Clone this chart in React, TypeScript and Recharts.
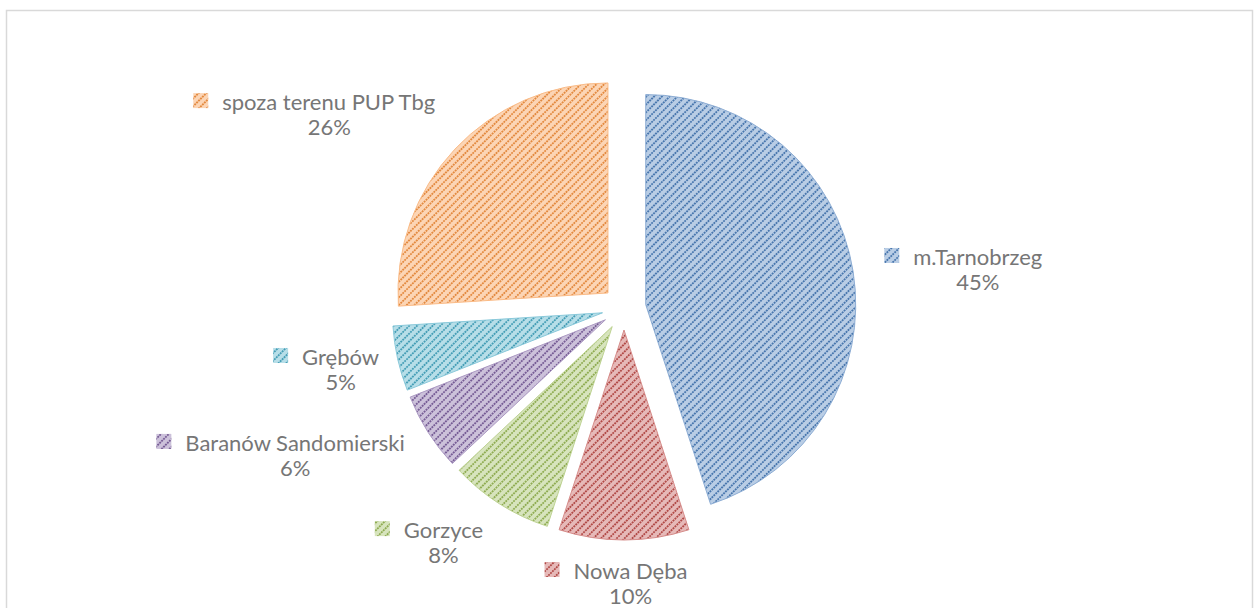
import React from 'react';
import { PieChart, Pie, Cell, Sector } from 'recharts';

const categories = ['m.Tarnobrzeg', 'Nowa Dęba', 'Gorzyce', 'Baranów Sandomierski', 'Grębów', 'spoza terenu PUP Tbg'];
const values = [45, 10, 8, 6, 5, 26];
const colors = ['#4f81bd', '#c0504d', '#9bbb59', '#8064a2', '#4bacc6', '#f79646'];

const data = categories.map((name, i) => ({ name, value: values[i] }));

// label layout tweaks (best-fit placement adjustments), in px
const labelNudge: [number, number][] = [
  [-1.5, 9.5],
  [-8, -13],
  [-23.5, -8.6],
  [-13.5, -6],
  [13.4, 0.5],
  [-26.6, 8.3],
];

const FONT = 'Lato, "Open Sans", sans-serif';
const FONT_SIZE = 22;
const EXPLODE = 22;
const LABEL_DIST = 266;
const RAD = Math.PI / 180;

let ctx: CanvasRenderingContext2D | null = null;
function measure(t: string): number {
  if (!ctx && typeof document !== 'undefined') {
    ctx = document.createElement('canvas').getContext('2d');
  }
  if (!ctx) return t.length * FONT_SIZE * 0.5;
  ctx.font = `${FONT_SIZE}px Lato`;
  return ctx.measureText(t).width;
}

function mix(hex: string, w: number): string {
  const n = parseInt(hex.slice(1), 16);
  const r = (n >> 16) & 255, g = (n >> 8) & 255, b = n & 255;
  const m = (c: number) => Math.round(c + (255 - c) * w);
  return `rgb(${m(r)},${m(g)},${m(b)})`;
}

function shade(hex: string, k: number): string {
  const n = parseInt(hex.slice(1), 16);
  const r = (n >> 16) & 255, g = (n >> 8) & 255, b = n & 255;
  return `rgb(${Math.round(r * k)},${Math.round(g * k)},${Math.round(b * k)})`;
}

function renderSlice(props: any) {
  const { cx, cy, outerRadius, startAngle, endAngle, midAngle, percent, index, payload } = props;
  const dx = Math.cos(midAngle * RAD);
  const dy = -Math.sin(midAngle * RAD);
  const scx = cx + dx * EXPLODE;
  const scy = cy + dy * EXPLODE;
  const name = payload?.name ?? categories[index];
  const pct = `${Math.round(percent * 100)}%`;
  const tw = measure(name);
  const blockW = 29 + tw;
  const blockH = 50;
  const [nx, ny] = labelNudge[index] || [0, 0];
  const bcx = cx + dx * LABEL_DIST + dx * blockW / 2 + nx;
  const bcy = cy + dy * LABEL_DIST + dy * blockH / 2 + ny;
  const left = bcx - blockW / 2;
  const base = bcy - 7;
  return (
    <g key={`s-${index}`}>
      <Sector
        cx={scx}
        cy={scy}
        innerRadius={0}
        outerRadius={outerRadius}
        startAngle={startAngle}
        endAngle={endAngle}
        fill={`url(#pat${index})`}
        stroke={mix(colors[index], 0.35)}
        strokeWidth={1}
      />
      <rect x={left} y={base - 17} width={15} height={15} fill={`url(#pat${index})`} />
      <text x={left + 29} y={base} fill="#767676" fontSize={FONT_SIZE} fontFamily={FONT}>{name}</text>
      <text x={left + 29 + tw / 2} y={base + 25} fill="#767676" fontSize={FONT_SIZE} fontFamily={FONT} textAnchor="middle">{pct}</text>
    </g>
  );
}

export default function App() {
  return (
    <div style={{ position: 'absolute', left: 0, top: 0, width: 1254, height: 608, background: '#fff' }}>
      <PieChart width={1254} height={608} margin={{ top: 0, right: 0, bottom: 0, left: 0 }}>
        <defs>
          {colors.map((c, i) => (
            <pattern key={i} id={`pat${i}`} width={5.5} height={5.5} patternUnits="userSpaceOnUse" patternTransform="rotate(-45)">
              <rect x={0} y={0} width={5.5} height={5.5} fill={mix(c, 0.6)} />
              <line x1={0} y1={2.75} x2={5.5} y2={2.75} stroke={shade(c, 0.92)} strokeWidth={1.8} strokeDasharray="1.9 0.85" />
            </pattern>
          ))}
        </defs>
        <rect x={6.5} y={10.5} width={1246} height={620} fill="none" stroke="#d9d9d9" strokeWidth={1.5} />
        <Pie
          data={data}
          dataKey="value"
          nameKey="name"
          cx={624}
          cy={308}
          innerRadius={0}
          outerRadius={210}
          startAngle={90}
          endAngle={-270}
          isAnimationActive={false}
          labelLine={false}
          label={renderSlice}
          stroke="none"
        >
          {data.map((d, i) => (
            <Cell key={i} fill="none" stroke="none" />
          ))}
        </Pie>
      </PieChart>
    </div>
  );
}
